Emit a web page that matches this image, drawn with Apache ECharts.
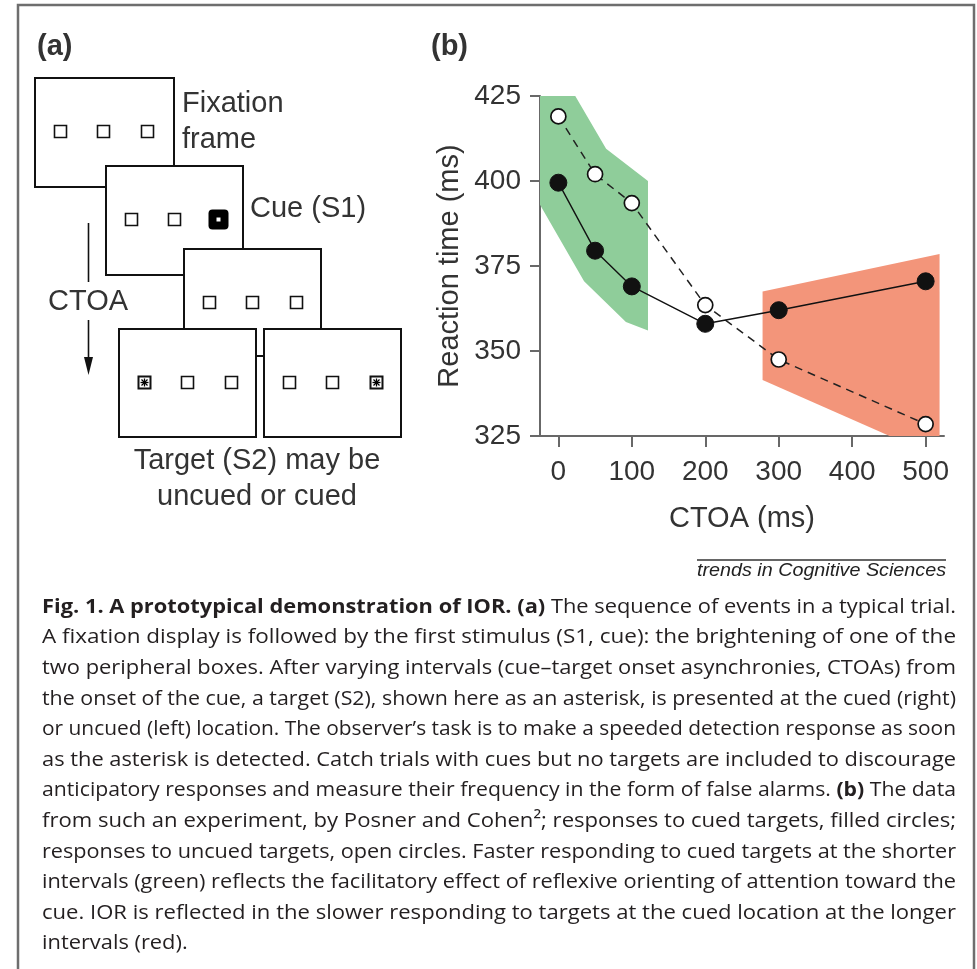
<!DOCTYPE html>
<html>
<head>
<meta charset="utf-8">
<script src="https://cdn.jsdelivr.net/npm/echarts@6/dist/echarts.min.js"></script>
<style>
  html, body { margin: 0; padding: 0; background: #fff; }
  #main { width: 977px; height: 969px; }
</style>
</head>
<body>
<div id="main"></div>
<script>
// ---- Data: Posner & Cohen cueing experiment ----
// cue-target onset asynchrony (ms)
var ctoa = [0, 50, 100, 200, 300, 500];
// mean reaction time (ms) to targets at the cued location (filled circles)
var rtCued = [399.5, 379.5, 369, 358, 362, 370.5];
// mean reaction time (ms) to targets at the uncued location (open circles)
var rtUncued = [419, 402, 393.5, 363.5, 347.5, 328.5];
// shaded regions [CTOA, RT]: facilitation at short intervals, IOR at long ones
var facilitationZone = [[-25, 425], [23, 425], [65, 409.5], [122, 400], [122, 356], [92, 358.5], [35, 370.5], [-25, 393]];
var iorZone = [[278, 367.5], [519, 378.5], [519, 325], [451, 325], [278, 341.5]];
// axis ticks
var xTicks = [0, 100, 200, 300, 400, 500];
var yRange = [325, 425];
var yStep = 25;

// ---- Caption ----
var captionLines = [
  [['b', 'Fig. 1. A prototypical demonstration of IOR. (a)'], ['r', ' The sequence of events in a typical trial.']],
  [['r', 'A fixation display is followed by the first stimulus (S1, cue): the brightening of one of the']],
  [['r', 'two peripheral boxes. After varying intervals (cue\u2013target onset asynchronies, CTOAs) from']],
  [['r', 'the onset of the cue, a target (S2), shown here as an asterisk, is presented at the cued (right)']],
  [['r', 'or uncued (left) location. The observer\u2019s task is to make a speeded detection response as soon']],
  [['r', 'as the asterisk is detected. Catch trials with cues but no targets are included to discourage']],
  [['r', 'anticipatory responses and measure their frequency in the form of false alarms. '], ['b', '(b)'], ['r', ' The data']],
  [['r', 'from such an experiment, by Posner and Cohen\u00b2; responses to cued targets, filled circles;']],
  [['r', 'responses to uncued targets, open circles. Faster responding to cued targets at the shorter']],
  [['r', 'intervals (green) reflects the facilitatory effect of reflexive orienting of attention toward the']],
  [['r', 'cue. IOR is reflected in the slower responding to targets at the cued location at the longer']],
  [['r', 'intervals (red).']]
];

var SANS = '"Liberation Sans", Arial, Helvetica, sans-serif';
var CAP_FONT = '"Open Sans", "Noto Sans", sans-serif';
var CAP_SIZE = 20;
var CAP_LEFT = 42, CAP_RIGHT = 956, CAP_TOP = 607, CAP_STEP = 30.6;
var INK = '#111';
var TXT = '#333';

var g = [];

// figure border
g.push({ type: 'polyline', z: 1, shape: { points: [[18, 969], [18, 5], [974, 5], [974, 969]] },
  style: { stroke: '#6e6e6e', lineWidth: 2.5, fill: null } });

// ---- Panel (a): trial sequence diagram ----
g.push({ type: 'text', z: 5, x: 37, y: 47, style: { text: '(a)', fontSize: 29, fontWeight: 'bold', fontFamily: SANS, fill: TXT, verticalAlign: 'middle' } });
g.push({ type: 'text', z: 5, x: 431, y: 47, style: { text: '(b)', fontSize: 29, fontWeight: 'bold', fontFamily: SANS, fill: TXT, verticalAlign: 'middle' } });

var frames = [
  { x: 35, y: 78, w: 139, h: 109, boxes: ['o', 'o', 'o'] },
  { x: 106, y: 166, w: 137, h: 109, boxes: ['o', 'o', 'cue'] },
  { x: 184, y: 249, w: 137, h: 107, boxes: ['o', 'o', 'o'] },
  { x: 119, y: 329, w: 137, h: 108, boxes: ['t', 'o', 'o'] },
  { x: 264, y: 329, w: 137, h: 108, boxes: ['o', 'o', 't'] }
];
var boxOffsets = [25.5, 68.5, 112.5];
var boxRow = 53.5;

frames.forEach(function (f, i) {
  var z = 10 + i * 5;
  g.push({ type: 'rect', z: z, shape: { x: f.x, y: f.y, width: f.w, height: f.h },
    style: { fill: '#fff', stroke: INK, lineWidth: 2 } });
  f.boxes.forEach(function (kind, j) {
    var cx = f.x + boxOffsets[j], cy = f.y + boxRow;
    if (kind === 'cue') {
      g.push({ type: 'rect', z: z + 1, shape: { x: cx - 10, y: cy - 10, width: 20, height: 20, r: 4 }, style: { fill: '#000' } });
      g.push({ type: 'rect', z: z + 2, shape: { x: cx - 2, y: cy - 2, width: 4, height: 4 }, style: { fill: '#fff' } });
    } else {
      g.push({ type: 'rect', z: z + 1, shape: { x: cx - 6, y: cy - 6, width: 12, height: 12 },
        style: { fill: '#fff', stroke: INK, lineWidth: kind === 't' ? 2 : 1.6 } });
      if (kind === 't') {
        // asterisk target
        [[-4, 0, 4, 0], [0, -4, 0, 4], [-3, -3, 3, 3], [-3, 3, 3, -3]].forEach(function (s) {
          g.push({ type: 'line', z: z + 2, shape: { x1: cx + s[0], y1: cy + s[1], x2: cx + s[2], y2: cy + s[3] },
            style: { stroke: '#000', lineWidth: 1.3 } });
        });
      }
    }
  });
});

// CTOA arrow
g.push({ type: 'line', z: 6, shape: { x1: 88.5, y1: 223, x2: 88.5, y2: 282 }, style: { stroke: INK, lineWidth: 1.6 } });
g.push({ type: 'line', z: 6, shape: { x1: 88.5, y1: 320, x2: 88.5, y2: 362 }, style: { stroke: INK, lineWidth: 1.6 } });
g.push({ type: 'polygon', z: 6, shape: { points: [[84, 357], [93, 357], [88.5, 375]] }, style: { fill: INK } });

function label(text, x, y, align) {
  g.push({ type: 'text', z: 6, x: x, y: y, style: { text: text, fontSize: 29, fontFamily: SANS, fill: TXT, align: align || 'left', verticalAlign: 'middle' } });
}
label('Fixation', 182, 104);
label('frame', 182, 140);
label('Cue (S1)', 250, 209);
label('CTOA', 48, 302);
label('Target (S2) may be', 257, 461, 'center');
label('uncued or cued', 257, 497, 'center');

// ---- Caption block ----
g.push({ type: 'line', z: 5, shape: { x1: 697, y1: 560, x2: 946, y2: 560 }, style: { stroke: '#333', lineWidth: 1.3 } });

var measureCtx = document.createElement('canvas').getContext('2d');
function measure(text, font) { measureCtx.font = font; return measureCtx.measureText(text).width; }

var sourceFont = 'italic 19px ' + SANS;
var sourceText = 'trends in Cognitive Sciences';
g.push({ type: 'text', z: 5, x: 697, y: 571, scaleX: 249 / measure(sourceText, sourceFont),
  style: { text: sourceText, fontSize: 19, fontStyle: 'italic', fontFamily: SANS, fill: '#222', verticalAlign: 'middle' } });

var capWidth = CAP_RIGHT - CAP_LEFT;
var scales = captionLines.map(function (line) {
  var w = 0;
  line.forEach(function (seg) {
    w += measure(seg[1], (seg[0] === 'b' ? 'bold ' : '') + CAP_SIZE + 'px ' + CAP_FONT);
  });
  return capWidth / w;
});
// last line is not justified: use the typical compression of the others
var sorted = scales.slice(0, -1).sort(function (a, b) { return a - b; });
scales[scales.length - 1] = sorted[Math.floor(sorted.length / 2)];

captionLines.forEach(function (line, i) {
  var txt = line.map(function (seg) { return '{' + seg[0] + '|' + seg[1] + '}'; }).join('');
  g.push({ type: 'text', z: 5, x: CAP_LEFT, y: CAP_TOP + i * CAP_STEP, scaleX: scales[i],
    style: {
      text: txt, verticalAlign: 'middle', fontSize: CAP_SIZE, fontFamily: CAP_FONT, fill: '#231f20',
      rich: {
        b: { fontSize: CAP_SIZE, fontFamily: CAP_FONT, fontWeight: 'bold', fill: '#231f20' },
        r: { fontSize: CAP_SIZE, fontFamily: CAP_FONT, fill: '#231f20' }
      }
    } });
});

// ---- Panel (b): chart ----
function zoneRenderer(vertices, color) {
  return function (params, api) {
    if (params.dataIndex !== 0) return null;
    var pts = vertices.map(function (v) { return api.coord(v); });
    return { type: 'polygon', shape: { points: pts }, style: { fill: color } };
  };
}

var AXIS = '#686868';
var chart = echarts.init(document.getElementById('main'), null, { renderer: 'canvas' });
chart.setOption({
  animation: false,
  backgroundColor: '#fff',
  graphic: { elements: g },
  grid: { left: 540, top: 96, width: 404, height: 340, containLabel: false },
  xAxis: {
    type: 'value', min: -25, max: 525,
    name: 'CTOA (ms)', nameLocation: 'middle', nameGap: 68,
    nameTextStyle: { fontSize: 29, color: TXT, fontFamily: SANS },
    axisLine: { onZero: false, lineStyle: { color: AXIS, width: 2 } },
    axisTick: { customValues: xTicks, length: 11, lineStyle: { color: AXIS, width: 2 } },
    axisLabel: { customValues: xTicks, fontSize: 28, color: TXT, fontFamily: SANS, margin: 22 },
    splitLine: { show: false }
  },
  yAxis: {
    type: 'value', min: yRange[0], max: yRange[1], interval: yStep,
    name: 'Reaction time (ms)', nameLocation: 'middle', nameGap: 76,
    nameTextStyle: { fontSize: 29, color: TXT, fontFamily: SANS },
    axisLine: { show: true, onZero: false, lineStyle: { color: AXIS, width: 2 } },
    axisTick: { show: true, length: 10, lineStyle: { color: AXIS, width: 2 } },
    axisLabel: { fontSize: 28, color: TXT, fontFamily: SANS, margin: 19 },
    splitLine: { show: false }
  },
  series: [
    { type: 'custom', name: 'facilitation', silent: true, z: 1, clip: false,
      data: facilitationZone, renderItem: zoneRenderer(facilitationZone, '#8fcd9a') },
    { type: 'custom', name: 'IOR', silent: true, z: 1, clip: false,
      data: iorZone, renderItem: zoneRenderer(iorZone, '#f3957a') },
    { type: 'line', name: 'uncued', z: 3, silent: true,
      data: ctoa.map(function (x, i) { return [x, rtUncued[i]]; }),
      symbol: 'circle', symbolSize: 15, showAllSymbol: true,
      lineStyle: { color: '#222', width: 1.5, type: [8, 6] },
      itemStyle: { color: '#fff', borderColor: '#111', borderWidth: 1.7 } },
    { type: 'line', name: 'cued', z: 4, silent: true,
      data: ctoa.map(function (x, i) { return [x, rtCued[i]]; }),
      symbol: 'circle', symbolSize: 17, showAllSymbol: true,
      lineStyle: { color: '#111', width: 1.4 },
      itemStyle: { color: '#111', borderColor: '#111', borderWidth: 1 } }
  ]
});
</script>
</body>
</html>
